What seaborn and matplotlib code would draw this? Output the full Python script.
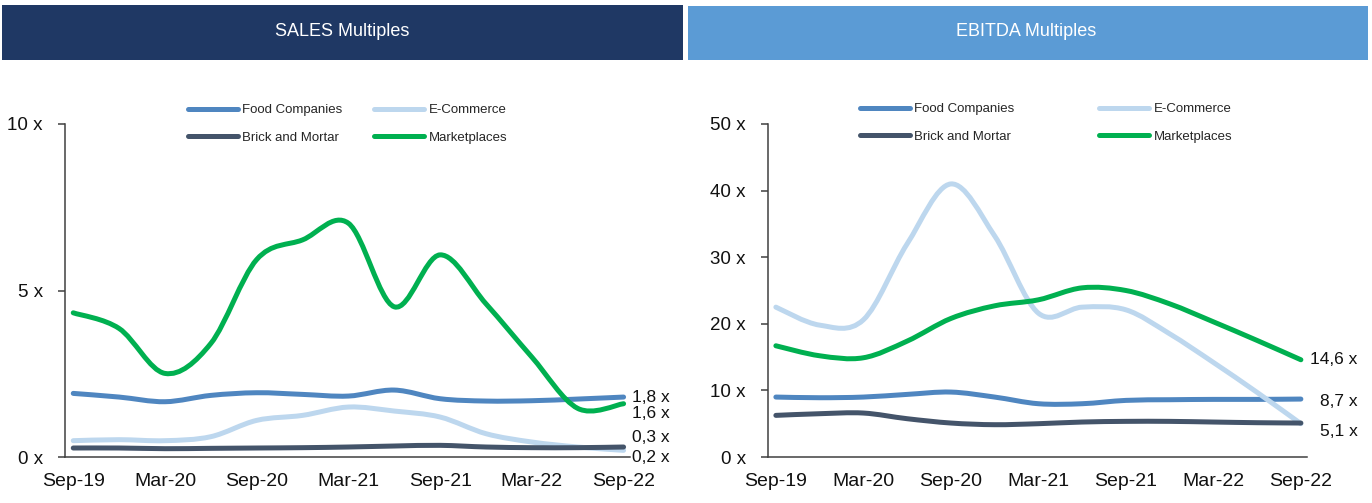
import numpy as np
import pandas as pd
import matplotlib
matplotlib.use("Agg")
import matplotlib.pyplot as plt
import seaborn as sns
from matplotlib.path import Path
from matplotlib.patches import PathPatch, Rectangle
from matplotlib.lines import Line2D

# %% data
quarters = ["Sep-19", "Dec-19", "Mar-20", "Jun-20", "Sep-20", "Dec-20", "Mar-21",
            "Jun-21", "Sep-21", "Dec-21", "Mar-22", "Jun-22", "Sep-22"]
tick_labels = quarters[::2]

series = ["Food Companies", "E-Commerce", "Brick and Mortar", "Marketplaces"]
colors = {"Food Companies": "#4F86C0", "E-Commerce": "#BDD7EE",
          "Brick and Mortar": "#44546A", "Marketplaces": "#00B050"}

# SALES multiples
sales_food = [1.91, 1.8, 1.66, 1.85, 1.93, 1.88, 1.83, 2.01, 1.75, 1.68, 1.69, 1.74, 1.8]
sales_ecom = [0.49, 0.52, 0.49, 0.61, 1.1, 1.25, 1.5, 1.38, 1.2, 0.7, 0.45, 0.3, 0.2]
sales_brick = [0.27, 0.27, 0.25, 0.26, 0.27, 0.28, 0.3, 0.33, 0.35, 0.3, 0.28, 0.28, 0.3]
sales_market = [4.33, 3.86, 2.51, 3.41, 5.93, 6.52, 7.02, 4.51, 6.07, 4.6, 3.0, 1.46, 1.6]

# EBITDA multiples
ebitda_food = [9.0, 8.9, 9.0, 9.4, 9.75, 9.0, 8.0, 8.0, 8.5, 8.6, 8.65, 8.65, 8.7]
ebitda_ecom = [22.5, 19.8, 20.6, 32.0, 41.0, 33.2, 21.6, 22.5, 22.1, 18.5, 14.2, 9.7, 5.0]
ebitda_brick = [6.25, 6.5, 6.6, 5.75, 5.1, 4.85, 5.0, 5.25, 5.35, 5.35, 5.25, 5.15, 5.1]
ebitda_market = [16.7, 15.2, 14.9, 17.4, 20.8, 22.7, 23.6, 25.4, 25.0, 23.0, 20.3, 17.5, 14.6]

sales_labels_dy = {"Food Companies": 0, "Marketplaces": -7, "Brick and Mortar": 7, "E-Commerce": -5}
ebitda_labels_dy = {"Food Companies": -2, "Marketplaces": 0, "Brick and Mortar": -6}

# %% style
sns.set_style("white")
plt.rcParams["font.family"] = ["Liberation Sans", "DejaVu Sans"]

fig = plt.figure(figsize=(13.72, 5.03), dpi=100)
W, H = 1372, 503


def fx(px):
    return px / W


def fy(py):
    return 1 - py / H


def smooth_path(x, y):
    # bezier through every point (like excel "smoothed line")
    pts = np.column_stack([x, y])
    n = len(pts)
    verts, codes = [pts[0]], [Path.MOVETO]
    for i in range(n - 1):
        p0 = pts[i - 1] if i > 0 else pts[i]
        p1, p2 = pts[i], pts[i + 1]
        p3 = pts[i + 2] if i + 2 < n else pts[i + 1]
        verts += [p1 + (p2 - p0) / 6, p2 - (p3 - p1) / 6, p2]
        codes += [Path.CURVE4] * 3
    return Path(verts, codes)


def draw_panel(ax, data, ymax, yticks, label_dy, label_dx, label_ha):
    x = np.arange(len(quarters))
    for z, name in enumerate(series):
        df = pd.DataFrame({"q": x, "v": data[name]})
        sns.lineplot(data=df, x="q", y="v", ax=ax, color=colors[name], lw=3.6)
        line = ax.lines[-1]
        xy = line.get_xydata()
        line.set_visible(False)
        ax.add_patch(PathPatch(smooth_path(xy[:, 0], xy[:, 1]), fill=False,
                               edgecolor=colors[name], lw=3.6, capstyle="round",
                               joinstyle="round", zorder=3 + z, clip_on=False))
        if name in label_dy:
            v = data[name][-1]
            ax.annotate(f"{v:.1f}".replace(".", ",") + " x", xy=(x[-1], v),
                        xytext=(label_dx, label_dy[name]), textcoords="offset points",
                        ha=label_ha, va="center", fontsize=12.5, color="#111111",
                        annotation_clip=False)
    ax.set_xlim(-0.18, 12.14)
    ax.set_ylim(0, ymax)
    ax.set_xticks(x[::2])
    ax.set_xticklabels(tick_labels)
    ax.set_yticks(yticks)
    ax.set_yticklabels([f"{t} x" for t in yticks])
    ax.set_xlabel("")
    ax.set_ylabel("")
    for s in ["top", "right"]:
        ax.spines[s].set_visible(False)
    for s in ["left", "bottom"]:
        ax.spines[s].set_color("#404040")
        ax.spines[s].set_linewidth(1.1)
    ax.tick_params(axis="x", length=0, pad=11.5, labelsize=14, labelcolor="#111111")
    ax.tick_params(axis="y", length=5, width=1.1, color="#404040", pad=11,
                   labelsize=13.5, labelcolor="#111111", left=True)


# %% panels
ax1 = fig.add_axes([fx(65), fy(457), fx(630 - 65), (457 - 124) / H])
sales = dict(zip(series, [sales_food, sales_ecom, sales_brick, sales_market]))
draw_panel(ax1, sales, 10, [0, 5, 10], sales_labels_dy, 6, "left")

ax2 = fig.add_axes([fx(768), fy(457), fx(1307 - 768), (457 - 124) / H])
ebitda = dict(zip(series, [ebitda_food, ebitda_ecom, ebitda_brick, ebitda_market]))
draw_panel(ax2, ebitda, 50, [0, 10, 20, 30, 40, 50], ebitda_labels_dy, 41, "right")

# header bars
fig.add_artist(Rectangle((fx(2), fy(60)), fx(681), 55 / H, transform=fig.transFigure,
                         facecolor="#1F3864", edgecolor="none"))
fig.add_artist(Rectangle((fx(688), fy(60)), fx(680), 54 / H, transform=fig.transFigure,
                         facecolor="#5B9BD5", edgecolor="none"))
fig.text(fx(342), fy(31), "SALES Multiples", color="white", fontsize=13,
         ha="center", va="center")
fig.text(fx(1026), fy(31), "EBITDA Multiples", color="white", fontsize=13,
         ha="center", va="center")

# legends
handles = [Line2D([], [], color=colors[n], lw=3.6, solid_capstyle="round") for n in series]
order = [0, 2, 1, 3]  # column-wise fill: Food/Brick | E-Com/Market
leg_kw = dict(ncol=2, frameon=False, fontsize=9.5, handlelength=3.8, handletextpad=0.35,
              labelspacing=1.15, borderpad=0, borderaxespad=0, loc="center left")
fig.legend([handles[i] for i in order], [series[i] for i in order],
           bbox_to_anchor=(fx(187.5), fy(124)), columnspacing=2.4, **leg_kw)
fig.legend([handles[i] for i in order], [series[i] for i in order],
           bbox_to_anchor=(fx(859.5), fy(123)), columnspacing=6.4, **leg_kw)

fig.savefig("out.png", dpi=100)
